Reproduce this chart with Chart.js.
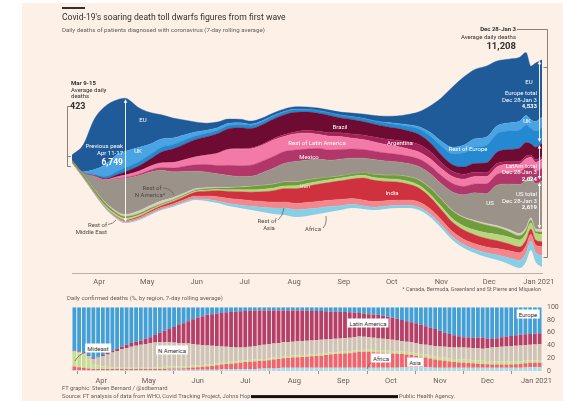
<!DOCTYPE html>
<html>
<head>
<meta charset="utf-8">
<script src="https://cdn.jsdelivr.net/npm/chart.js@4.4.1/dist/chart.umd.min.js"></script>
<style>
html,body{margin:0;padding:0;background:#fff;width:563px;height:401px;overflow:hidden}
#wrap{position:relative;width:563px;height:401px;font-family:Roboto,"Open Sans",Arial,sans-serif;color:#33302e}
#paper{position:absolute;left:22px;top:3px;right:0;bottom:0;background:#fdf0e6}
canvas{position:absolute;left:0}
#c1{top:0}
#c2{top:298px}
.t{position:absolute;white-space:nowrap;line-height:1;transform:translateY(-50%);font-size:6px}
.r{transform:translate(-100%,-50%)}
.c{transform:translate(-50%,-50%)}
.w{color:#fff}
.b{font-weight:700}
.g{color:#4d4845}
.box{background:#fff;padding:1.5px 2px;color:#33302e}
svg{position:absolute;left:0;top:0}
</style>
</head>
<body>
<div id="wrap">
<div id="paper"></div>
<canvas id="c1" width="563" height="293"></canvas>
<canvas id="c2" width="563" height="95"></canvas>
<svg width="563" height="401">
<g fill="none" stroke="#6b6560" stroke-width="0.8">
<path d="M70,106.5 H67.5 V166.5 H71 M67.5,156.5 H71"/>
<path d="M517,29.5 H547.5 V257.5 H543.5 M543.5,67.5 H547.5"/>
<path d="M163,188 Q171,188 174,195"/>
<path d="M108,224.5 Q113,224 116,220"/>
<path d="M278,220 Q283,216 284,208"/>
<path d="M323,228 Q327,224 326,216"/>
<path d="M86,352 Q78,355 75,361"/>
<path d="M372,362 Q368,364 367,369"/>
</g>
</svg>

<div style="position:absolute;left:62px;top:6.5px;width:23px;height:2px;background:#33302e"></div>
<div class="t" style="left:62px;top:17px;font-size:8.6px">Covid-19's soaring death toll dwarfs figures from first wave</div>
<div class="t" style="left:62px;top:30px;font-size:6.15px;color:#66605c">Daily deaths of patients diagnosed with coronavirus (7-day rolling average)</div>

<div class="t b" style="left:71px;top:83px">Mar 9-15</div>
<div class="t" style="left:71px;top:89.5px">Average daily</div>
<div class="t" style="left:71px;top:96px">deaths</div>
<div class="t b" style="left:70px;top:106px;font-size:9px">423</div>

<div class="t r w" style="left:123px;top:146px">Previous peak</div>
<div class="t r w" style="left:123px;top:153px">Apr 11-17</div>
<div class="t r w b" style="left:123px;top:162px;font-size:8.5px">6,749</div>
<div class="t c w" style="left:143px;top:120px">EU</div>
<div class="t c w" style="left:138px;top:151px">UK</div>
<div class="t c g" style="left:152px;top:188px">Rest of</div>
<div class="t c g" style="left:150px;top:194.5px">N America*</div>
<div class="t r g" style="left:107px;top:225px">Rest of</div>
<div class="t r g" style="left:107px;top:232px">Middle East</div>
<div class="t c w" style="left:340px;top:127px">Brazil</div>
<div class="t c w" style="left:317px;top:143px">Rest of Latin America</div>
<div class="t c w" style="left:400px;top:143px">Argentina</div>
<div class="t c w" style="left:309px;top:157px">Mexico</div>
<div class="t c" style="left:305px;top:186px;color:#e3ecd2">Iran</div>
<div class="t c w" style="left:392px;top:193px">India</div>
<div class="t c w" style="left:490px;top:203px">US</div>
<div class="t c w" style="left:468px;top:149px">Rest of Europe</div>
<div class="t c g" style="left:267px;top:221px">Rest of</div>
<div class="t c g" style="left:269px;top:228px">Asia</div>
<div class="t c g" style="left:313px;top:229px">Africa</div>

<div class="t r b" style="left:516px;top:29px">Dec 28-Jan 3</div>
<div class="t r" style="left:516px;top:37px">Average daily deaths</div>
<div class="t r b" style="left:516px;top:46px;font-size:9.5px">11,208</div>
<div class="t c w" style="left:529px;top:82px">EU</div>
<div class="t r w" style="left:537px;top:93px">Europe total</div>
<div class="t r w" style="left:537px;top:99.5px">Dec 28-Jan 3</div>
<div class="t r w b" style="left:537px;top:106px">4,533</div>
<div class="t c w" style="left:527px;top:121px">UK</div>
<div class="t r w" style="left:537px;top:166px">LatAm total</div>
<div class="t r w" style="left:537px;top:172px">Dec 28-Jan 3</div>
<div class="t r w b" style="left:537px;top:178.5px">2,024</div>
<div class="t r w" style="left:537px;top:194px">US total</div>
<div class="t r w" style="left:537px;top:200.5px">Dec 28-Jan 3</div>
<div class="t r w b" style="left:537px;top:207px">2,619</div>

<div class="t r" style="left:541px;top:290px;font-size:5.4px;color:#66605c">* Canada, Bermuda, Greenland and St Pierre and Miquelon</div>
<div class="t" style="left:67px;top:298px;font-size:6px;color:#66605c">Daily confirmed deaths (%, by region, 7-day rolling average)</div>

<div class="t c box" style="left:98px;top:348px">Mideast</div>
<div class="t c box" style="left:172px;top:350px">N America</div>
<div class="t c box" style="left:368px;top:323px">Latin America</div>
<div class="t c box" style="left:528px;top:314px">Europe</div>
<div class="t c box" style="left:381px;top:358px">Africa</div>
<div class="t c box" style="left:415px;top:362px">Asia</div>

<div class="t" style="left:62px;top:389px;font-size:5.8px;color:#66605c">FT graphic: Steven Bernard / @sdbernard</div>
<div class="t" style="left:62px;top:397px;font-size:5.8px;color:#66605c">Source: FT analysis of data from WHO, Covid Tracking Project, Johns Hop<span style="display:inline-block;width:147px;height:3px;background:#111;vertical-align:middle"></span> Public Health Agency.</div>
</div>

<script>
// ---------- Main streamgraph data (7-day average daily deaths) ----------
// day 0 = Mar 15 2020 (7-day window Mar 9-15); day 294 = Jan 3 2021
const days = [0,7,14,21,28,33,42,49,56,63,70,77,84,91,98,105,112,119,126,133,140,147,154,161,168,175,182,189,196,203,210,217,224,231,238,245,252,259,266,273,280,284,287,290,294];
const monthDays = [17,47,78,108,139,170,200,231,261,292];
const monthLabels = ['Apr','May','Jun','Jul','Aug','Sep','Oct','Nov','Dec','Jan 2021'];

// stream offset (lower edge of the stream)
const baseline = [5950,5140,4270,3460,2920,2700,2870,3140,3400,3570,3780,3950,3890,3780,3620,3510,3400,3300,3190,3140,3030,3080,3190,3300,3400,3510,3460,3400,3460,3510,3510,3400,3030,2430,1780,1350,1080,860,700,490,270,600,1240,600,320];

const africa = [1,3,10,20,30,40,45,50,50,55,60,70,90,110,140,170,210,260,320,370,390,380,330,290,240,200,180,160,150,150,150,160,160,170,180,190,200,230,270,340,420,470,480,520,602];
const restOfAsia = [22,28,35,50,65,75,85,95,100,110,120,140,180,230,270,290,300,310,320,330,340,350,350,340,330,320,310,300,290,280,280,280,280,280,280,290,300,320,350,380,400,400,380,400,500];
const india = [0,1,3,8,25,35,50,70,90,120,150,200,260,330,380,420,460,520,620,720,800,880,930,960,1010,1050,1180,1150,1050,980,870,750,620,540,500,490,480,460,420,370,320,300,280,260,270];
const restOfMiddleEast = [2,15,40,80,100,110,90,70,55,45,50,55,60,70,90,110,130,140,140,140,150,150,150,150,150,150,150,150,150,150,150,150,160,170,190,220,260,300,340,370,380,370,340,350,400];
const iran = [90,140,140,135,110,90,75,70,55,50,55,60,70,80,100,130,170,200,210,220,210,190,160,130,120,120,140,170,190,210,240,280,330,380,420,440,450,430,380,300,220,180,150,120,120];
const restOfNAmerica = [1,4,20,40,80,110,150,160,150,120,95,80,60,40,30,25,20,15,12,10,8,7,6,6,5,5,5,6,8,12,18,20,22,25,35,50,65,80,95,110,120,120,110,125,140];
const us = [8,70,700,1200,1750,1950,1900,1800,1650,1400,1180,950,850,720,645,560,540,680,850,1000,1100,1060,1040,920,900,850,780,800,760,720,700,720,780,830,1000,1200,1500,1600,2200,2450,2650,2600,2250,2450,2619];
const mexico = [0,1,5,10,25,45,70,110,150,200,270,340,400,450,550,580,600,620,640,640,620,600,580,550,520,500,470,450,430,410,400,400,420,440,450,450,480,530,580,620,660,680,600,680,694];
const restOfLatAm = [0,6,25,50,90,130,170,210,250,300,350,420,500,650,850,900,890,860,890,820,880,870,760,750,700,580,540,500,460,430,400,380,380,380,380,390,400,400,410,430,450,460,430,480,500];
const argentina = [0,1,2,5,8,8,8,8,10,10,12,15,18,20,25,30,40,55,70,90,110,130,160,190,210,230,240,260,290,330,370,400,380,320,280,260,230,210,190,160,140,140,120,130,130];
const brazil = [0,2,20,50,110,170,280,380,580,720,830,920,980,1050,1100,1130,1050,1050,1050,1080,1050,1000,980,930,800,780,730,700,680,640,600,550,480,420,360,400,480,520,600,650,720,730,600,680,700];
const restOfEurope = [5,25,60,120,180,220,240,250,260,250,230,200,190,190,190,190,180,170,160,150,150,140,140,140,140,150,160,170,190,210,250,300,380,480,600,750,880,950,1000,1000,980,950,850,880,873];
const uk = [3,40,260,650,900,880,760,560,450,350,280,220,170,130,100,80,60,50,40,30,25,15,12,12,12,12,15,20,35,55,80,120,180,260,350,420,450,450,430,440,480,520,450,520,560];
const eu = [290,1450,2730,3150,2960,2886,2130,1700,1300,1080,810,545,380,310,230,190,160,150,140,130,120,120,130,140,160,190,230,280,330,400,550,800,1430,2335,3245,3690,3750,3840,3500,3450,3450,3400,2900,3150,3100];

// ---------- Share chart data (% of daily deaths by region, every 3rd day) ----------
const africaShare = [1,1,1,1,1,1,1,1,1,1,1,1,1,1,1,1,1,1,1,1.5,
 2,2,2,2,2,2,2,2,2,2,2,2.5,3,3,3,3,3,3,3,3.5,4,4,4,4.5,
 5,5,5,5,5,5,5,5,5,5,5,5,5,5,5,5,5,5,5,5,5,5,5,5,5,5.5,
 6,6,6,6,6,5.5,
 5,5,5,5,5,5,5,5,5,5,5,5,5,5,5,5,5,5,5,5.5,6,6,6];
const asiaShare = [6,5,4,3,
 2,2,2,2,2,2,2,2,2,2,2,2,2,2,2,2,2,2,2,
 2.5,3,3.5,4,4.5,5,6,7,7.5,8,8.5,9,10,11,11.5,12,12,12,13,14,14.5,15,15.5,16,16.5,17,17.5,18,18.5,19,20,21,21.5,22,22.5,23,24,25,25,25,24.5,24,23.5,23,22.5,22,21,20,19,18,16.5,15,14,13,12,11,10,9,8.5,8,7.5,7,6.5,6,5.5,5,5,5,5,5,5.5,6,6.5,7,7,7];
const mideastShare = [23,22,21,14.5,8,6,4,3.5,3,2.5,2,2,2,2,2,2,2,2.5,
 3,3,3,3,3,3,3,3,3,3,3,3,3,3,3,3,3,3,3,3,3,3,3,3,3,3,3,3,3,3,3,3,3,3,3,3,3,3,3,3,3,3,3,
 3.5,4,4,4,4,4,4,4,4,4,4,4,4.5,
 5,5,5,5,5,5,5,5,5,5,5,5,5,5,5,5,5,5,5,4.5,4,4,4,4,4];
const nAmericaShare = [1,1.5,2,5,8,12,16,19.5,23,26,29,31,33,34.5,36,37.5,39,39,39,38.5,38,37.5,37,36,35,33.5,32,31,30,28.5,27,25.5,24,23,22,21,20,20.5,21,21.5,
 22,22,22,22,22,22,22,22,22,22,22,22,22,21.5,21,21,21,21,21,21,21,20,19,18.5,18,18,18,17.5,17,16.5,16,16,16,15.5,15,15.5,16,16.5,17,17.5,18,18.5,19,19,19,19,19,20.5,22,22.5,23,23.5,24,24.5,25,24.5,24,24.5,25];
const latAmShare = [1,1,1,1,1,1.5,2,2.5,3,3.5,4,5,6,6.5,7,8,9,12,15,18,21,24.5,28,31.5,35,39,43,45.5,48,49.5,51,52.5,54,55,56,56.5,57,56.5,56,55,54,53,52,51,50,49.5,49,48.5,48,47,46,45.5,45,44,43,42.5,42,41,40,38.5,37,36.5,36,36.5,37,36,35,34.5,34,33,32,31.5,31,30,29,28,27,24.5,22,20.5,19,17.5,16,16,16,16.5,17,15,13,14,15,15.5,16,16.5,17,17,17,17,17];
const europeShare = [68,69.5,71,75.5,80,77.5,75,71.5,68,65,62,59,56,54,52,49.5,47,43.5,40,37,34,31,28,25,22,19,16,14,12,11,10,9,8,7.5,7,6.5,6,5.5,
 5,5,5,5,5,5,5,5,5,5,5,
 5.5,6,6,6,6.5,7,7,7,7.5,8,8.5,9,10,11,11.5,12,13.5,15,16.5,18,20,22,23.5,25,27.5,30,32,34,37,40,42,44,45.5,47,47.5,48,48,48,49,50,48.5,47,46,45,44,43,42.5,42,41.5,41];
const shareStepDays = 3;
const shareDays = europeShare.map((_, i) => i * shareStepDays);

Chart.defaults.font.family = 'Roboto, "Open Sans", Arial, sans-serif';
Chart.defaults.color = '#66605c';

const layers = [
  ['Africa', africa, '#88cfe6'],
  ['Rest of Asia', restOfAsia, '#f2878c'],
  ['India', india, '#d0313f'],
  ['Rest of Middle East', restOfMiddleEast, '#b7d67e'],
  ['Iran', iran, '#6f9c3c'],
  ['Rest of N America', restOfNAmerica, '#d9cdbf'],
  ['US', us, '#9b938a'],
  ['Mexico', mexico, '#b2366a'],
  ['Rest of Latin America', restOfLatAm, '#f37aa6'],
  ['Argentina', argentina, '#a2235a'],
  ['Brazil', brazil, '#6e0b32'],
  ['Rest of Europe', restOfEurope, '#2489d0'],
  ['UK', uk, '#4aa3e2'],
  ['EU', eu, '#1f5a99']
];
const pts = arr => days.map((d, i) => ({x: d, y: arr[i]}));

const mainDatasets = [{
  label: 'offset', data: pts(baseline), fill: false, pointRadius: 0,
  borderWidth: 0, borderColor: 'rgba(0,0,0,0)', cubicInterpolationMode: 'monotone'
}].concat(layers.map(([name, arr, col]) => ({
  label: name, data: pts(arr), fill: '-1', backgroundColor: col, borderColor: col,
  borderWidth: 0.4, pointRadius: 0, cubicInterpolationMode: 'monotone'
})));

const IDX = {RNA: 6, US: 7, BR: 11, EU: 14};
const arrowPlugin = {
  id: 'arrows',
  afterDatasetsDraw(chart) {
    const ctx = chart.ctx;
    const yAt = (di, idx) => chart.getDatasetMeta(di).data[idx].y;
    const xs = chart.scales.x;
    function arrow(x, y1, y2) {
      ctx.save();
      ctx.strokeStyle = '#fff'; ctx.fillStyle = '#fff'; ctx.lineWidth = 0.9;
      ctx.beginPath(); ctx.moveTo(x, y1 + 2); ctx.lineTo(x, y2 - 2); ctx.stroke();
      ctx.beginPath(); ctx.moveTo(x, y1); ctx.lineTo(x - 1.8, y1 + 3.5); ctx.lineTo(x + 1.8, y1 + 3.5); ctx.closePath(); ctx.fill();
      ctx.beginPath(); ctx.moveTo(x, y2); ctx.lineTo(x - 1.8, y2 - 3.5); ctx.lineTo(x + 1.8, y2 - 3.5); ctx.closePath(); ctx.fill();
      ctx.restore();
    }
    const p = days.indexOf(33);
    arrow(Math.round(xs.getPixelForValue(33)) + 0.5, yAt(IDX.EU, p) + 1, yAt(0, p) - 1);
    const n = days.length - 1;
    const xe = Math.round(xs.getPixelForValue(days[n])) - 2.5;
    arrow(xe, yAt(IDX.EU, n) + 1, yAt(IDX.BR, n) - 1.5);
    arrow(xe, yAt(IDX.BR, n) + 1.5, yAt(IDX.US, n) - 1.5);
    arrow(xe, yAt(IDX.US, n) + 1.5, yAt(IDX.RNA, n) - 1);
  }
};

const monthTicks = axis => { axis.ticks = monthDays.map(v => ({value: v})); };
const monthLabel = v => monthLabels[monthDays.indexOf(v)];

new Chart(document.getElementById('c1'), {
  type: 'line',
  data: {datasets: mainDatasets},
  options: {
    responsive: false, animation: false, devicePixelRatio: 1,
    layout: {padding: {left: 72, right: 21, top: 14, bottom: 0}},
    plugins: {legend: {display: false}, tooltip: {enabled: false}},
    scales: {
      x: {
        type: 'linear', min: 0, max: 294,
        afterBuildTicks: monthTicks,
        afterFit: s => { s.height = 20; },
        grid: {display: false, drawTicks: false},
        border: {display: true, color: '#b9afa5', dash: [1, 1]},
        ticks: {callback: monthLabel, autoSkip: false, maxRotation: 0, padding: 5, font: {size: 7.5}, color: '#66605c'}
      },
      y: {display: false, stacked: true, min: 0, max: 14000}
    }
  },
  plugins: [arrowPlugin]
});

const shareSeries = [
  ['Africa', africaShare, '#a8dcea'],
  ['Asia', asiaShare, '#f0646f'],
  ['Mideast', mideastShare, '#c4de93'],
  ['N America', nAmericaShare, '#cec3b7'],
  ['Latin America', latAmShare, '#b53f69'],
  ['Europe', europeShare, '#40a0d9']
];

new Chart(document.getElementById('c2'), {
  type: 'bar',
  data: {datasets: shareSeries.map(([name, arr, col]) => ({
    label: name, data: shareDays.map((d, i) => ({x: d, y: arr[i]})),
    backgroundColor: col, borderWidth: 0, barPercentage: 0.8, categoryPercentage: 1
  }))},
  options: {
    responsive: false, animation: false, devicePixelRatio: 1,
    layout: {padding: {left: 72, right: 0, top: 7, bottom: 0}},
    plugins: {legend: {display: false}, tooltip: {enabled: false}},
    scales: {
      x: {
        type: 'linear', stacked: true, min: -1.5, max: 295.5, offset: false,
        afterBuildTicks: monthTicks,
        afterFit: s => { s.height = 22; },
        grid: {display: true, drawOnChartArea: false, drawTicks: true, tickLength: 3, color: '#9a938c'},
        border: {display: false},
        ticks: {callback: monthLabel, autoSkip: false, maxRotation: 0, padding: 3, font: {size: 7.5}, color: '#66605c'}
      },
      y: {
        position: 'right', stacked: true, min: 0, max: 100,
        afterFit: s => { s.width = 21; },
        grid: {display: false, drawTicks: false},
        border: {display: false},
        ticks: {stepSize: 20, padding: 5, font: {size: 7}, color: '#66605c'}
      }
    }
  }
});
</script>
</body>
</html>
